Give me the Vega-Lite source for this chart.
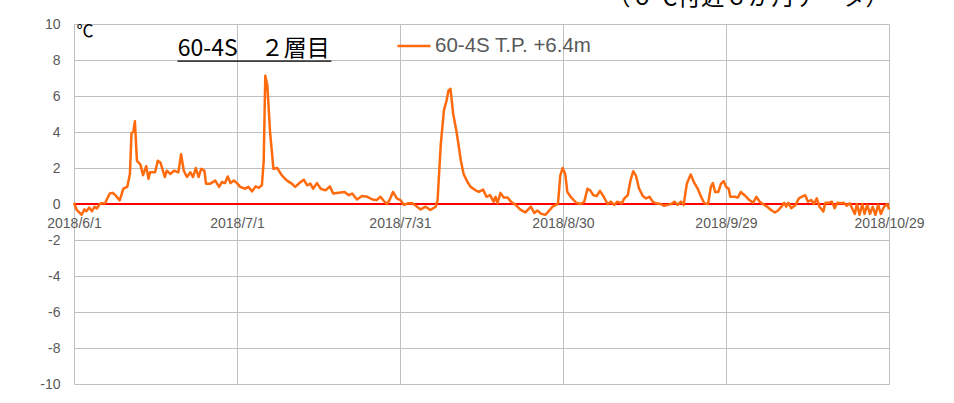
{
  "$schema": "https://vega.github.io/schema/vega-lite/v6.json",
  "width": 815,
  "height": 360,
  "autosize": {"type": "none"},
  "padding": {"left": 74, "top": 24, "right": 65, "bottom": 19},
  "background": "white",
  "config": {"view": {"stroke": null}},
  "datasets": {
    "temp": [
      {"t":"2018-06-01T00:00","v":0.07},{"t":"2018-06-01T12:00","v":-0.33},{"t":"2018-06-02T10:00","v":-0.6},{"t":"2018-06-02T22:00","v":-0.3},
      {"t":"2018-06-03T07:00","v":-0.4},{"t":"2018-06-03T19:00","v":-0.2},{"t":"2018-06-04T07:00","v":-0.4},{"t":"2018-06-04T19:00","v":-0.15},
      {"t":"2018-06-05T05:00","v":-0.25},{"t":"2018-06-05T17:00","v":0.0},{"t":"2018-06-06T02:00","v":0.04},{"t":"2018-06-06T17:00","v":0.04},
      {"t":"2018-06-07T05:00","v":0.35},{"t":"2018-06-07T14:00","v":0.58},{"t":"2018-06-08T02:00","v":0.62},{"t":"2018-06-08T14:00","v":0.5},
      {"t":"2018-06-09T10:00","v":0.2},{"t":"2018-06-10T02:00","v":0.85},{"t":"2018-06-10T19:00","v":0.95},{"t":"2018-06-11T07:00","v":1.67},
      {"t":"2018-06-11T14:00","v":3.95},{"t":"2018-06-11T22:00","v":4.0},{"t":"2018-06-12T05:00","v":4.6},{"t":"2018-06-12T14:00","v":2.4},
      {"t":"2018-06-13T05:00","v":2.2},{"t":"2018-06-13T17:00","v":1.6},{"t":"2018-06-14T07:00","v":2.1},{"t":"2018-06-14T17:00","v":1.4},
      {"t":"2018-06-15T00:00","v":1.76},{"t":"2018-06-15T22:00","v":1.76},{"t":"2018-06-16T10:00","v":2.4},{"t":"2018-06-16T22:00","v":2.3},
      {"t":"2018-06-17T17:00","v":1.5},{"t":"2018-06-18T02:00","v":1.85},{"t":"2018-06-18T17:00","v":1.67},{"t":"2018-06-19T10:00","v":1.85},
      {"t":"2018-06-20T05:00","v":1.76},{"t":"2018-06-20T17:00","v":2.76},{"t":"2018-06-21T05:00","v":1.85},{"t":"2018-06-21T19:00","v":1.5},
      {"t":"2018-06-22T10:00","v":1.76},{"t":"2018-06-22T22:00","v":1.5},{"t":"2018-06-23T10:00","v":2.0},{"t":"2018-06-23T22:00","v":1.5},
      {"t":"2018-06-24T10:00","v":1.95},{"t":"2018-06-25T00:00","v":1.85},{"t":"2018-06-25T07:00","v":1.13},{"t":"2018-06-26T02:00","v":1.13},
      {"t":"2018-06-27T00:00","v":1.3},{"t":"2018-06-27T17:00","v":0.95},{"t":"2018-06-28T05:00","v":1.22},{"t":"2018-06-28T19:00","v":1.16},
      {"t":"2018-06-29T07:00","v":1.53},{"t":"2018-06-29T19:00","v":1.16},{"t":"2018-06-30T10:00","v":1.3},{"t":"2018-07-01T00:00","v":1.16},
      {"t":"2018-07-01T14:00","v":0.95},{"t":"2018-07-02T12:00","v":0.85},{"t":"2018-07-03T02:00","v":0.95},{"t":"2018-07-03T19:00","v":0.7},
      {"t":"2018-07-04T10:00","v":0.98},{"t":"2018-07-05T00:00","v":0.9},{"t":"2018-07-05T14:00","v":1.04},{"t":"2018-07-05T22:00","v":2.4},
      {"t":"2018-07-06T05:00","v":7.13},{"t":"2018-07-06T14:00","v":6.6},{"t":"2018-07-07T02:00","v":4.0},{"t":"2018-07-07T17:00","v":1.95},
      {"t":"2018-07-08T10:00","v":2.0},{"t":"2018-07-08T17:00","v":1.85},{"t":"2018-07-09T07:00","v":1.58},{"t":"2018-07-10T05:00","v":1.3},
      {"t":"2018-07-11T02:00","v":1.13},{"t":"2018-07-11T17:00","v":0.95},{"t":"2018-07-12T17:00","v":1.22},{"t":"2018-07-13T07:00","v":1.35},
      {"t":"2018-07-13T22:00","v":1.04},{"t":"2018-07-14T12:00","v":1.13},{"t":"2018-07-15T00:00","v":0.85},{"t":"2018-07-15T17:00","v":1.16},
      {"t":"2018-07-16T10:00","v":0.85},{"t":"2018-07-17T07:00","v":0.76},{"t":"2018-07-18T02:00","v":0.98},{"t":"2018-07-18T17:00","v":0.58},
      {"t":"2018-07-19T17:00","v":0.62},{"t":"2018-07-20T19:00","v":0.67},{"t":"2018-07-21T14:00","v":0.49},{"t":"2018-07-22T05:00","v":0.58},
      {"t":"2018-07-23T02:00","v":0.25},{"t":"2018-07-24T00:00","v":0.44},{"t":"2018-07-25T00:00","v":0.4},{"t":"2018-07-25T22:00","v":0.25},
      {"t":"2018-07-26T17:00","v":0.22},{"t":"2018-07-27T10:00","v":0.4},{"t":"2018-07-28T00:00","v":0.18},{"t":"2018-07-28T14:00","v":0.0},
      {"t":"2018-07-29T02:00","v":0.22},{"t":"2018-07-29T17:00","v":0.67},{"t":"2018-07-30T10:00","v":0.31},{"t":"2018-07-31T02:00","v":0.22},
      {"t":"2018-07-31T17:00","v":-0.05},{"t":"2018-08-01T12:00","v":0.04},{"t":"2018-08-02T07:00","v":0.04},{"t":"2018-08-02T22:00","v":-0.1},
      {"t":"2018-08-03T19:00","v":-0.3},{"t":"2018-08-04T17:00","v":-0.15},{"t":"2018-08-05T14:00","v":-0.33},{"t":"2018-08-06T14:00","v":-0.15},
      {"t":"2018-08-06T22:00","v":0.22},{"t":"2018-08-07T12:00","v":3.3},{"t":"2018-08-08T02:00","v":5.2},{"t":"2018-08-08T14:00","v":5.76},
      {"t":"2018-08-08T22:00","v":6.3},{"t":"2018-08-09T07:00","v":6.4},{"t":"2018-08-09T19:00","v":5.0},{"t":"2018-08-10T10:00","v":4.0},
      {"t":"2018-08-11T05:00","v":2.4},{"t":"2018-08-11T17:00","v":1.67},{"t":"2018-08-12T10:00","v":1.22},{"t":"2018-08-13T00:00","v":0.95},
      {"t":"2018-08-13T22:00","v":0.76},{"t":"2018-08-14T12:00","v":0.67},{"t":"2018-08-15T07:00","v":0.8},{"t":"2018-08-15T22:00","v":0.4},
      {"t":"2018-08-16T14:00","v":0.49},{"t":"2018-08-17T05:00","v":0.13},{"t":"2018-08-17T14:00","v":0.4},{"t":"2018-08-17T22:00","v":0.04},
      {"t":"2018-08-18T12:00","v":0.62},{"t":"2018-08-19T02:00","v":0.36},{"t":"2018-08-19T19:00","v":0.36},{"t":"2018-08-20T10:00","v":0.13},
      {"t":"2018-08-21T07:00","v":-0.05},{"t":"2018-08-22T05:00","v":-0.33},{"t":"2018-08-23T02:00","v":-0.47},{"t":"2018-08-24T02:00","v":-0.15},
      {"t":"2018-08-24T17:00","v":-0.5},{"t":"2018-08-25T07:00","v":-0.36},{"t":"2018-08-26T00:00","v":-0.55},{"t":"2018-08-26T19:00","v":-0.6},
      {"t":"2018-08-27T07:00","v":-0.42},{"t":"2018-08-28T02:00","v":-0.15},{"t":"2018-08-28T17:00","v":-0.05},{"t":"2018-08-29T02:00","v":0.04},
      {"t":"2018-08-29T12:00","v":1.58},{"t":"2018-08-29T22:00","v":2.0},{"t":"2018-08-30T10:00","v":1.67},{"t":"2018-08-30T19:00","v":0.67},
      {"t":"2018-08-31T10:00","v":0.4},{"t":"2018-09-01T10:00","v":0.07},{"t":"2018-09-02T07:00","v":0.0},{"t":"2018-09-02T22:00","v":0.13},
      {"t":"2018-09-03T12:00","v":0.85},{"t":"2018-09-04T00:00","v":0.76},{"t":"2018-09-04T14:00","v":0.49},{"t":"2018-09-05T05:00","v":0.44},
      {"t":"2018-09-05T19:00","v":0.73},{"t":"2018-09-06T12:00","v":0.4},{"t":"2018-09-07T05:00","v":0.0},{"t":"2018-09-07T19:00","v":0.13},
      {"t":"2018-09-08T10:00","v":-0.05},{"t":"2018-09-09T00:00","v":0.13},{"t":"2018-09-09T19:00","v":0.04},{"t":"2018-09-10T07:00","v":0.31},
      {"t":"2018-09-10T22:00","v":0.49},{"t":"2018-09-11T10:00","v":1.3},{"t":"2018-09-11T22:00","v":1.82},{"t":"2018-09-12T10:00","v":1.58},
      {"t":"2018-09-13T00:00","v":0.85},{"t":"2018-09-13T17:00","v":0.44},{"t":"2018-09-14T07:00","v":0.31},{"t":"2018-09-14T22:00","v":0.4},
      {"t":"2018-09-15T12:00","v":0.13},{"t":"2018-09-16T02:00","v":0.04},{"t":"2018-09-17T00:00","v":0.0},{"t":"2018-09-17T14:00","v":-0.1},
      {"t":"2018-09-18T07:00","v":-0.05},{"t":"2018-09-18T22:00","v":0.0},{"t":"2018-09-19T12:00","v":0.13},{"t":"2018-09-20T02:00","v":-0.05},
      {"t":"2018-09-20T17:00","v":0.13},{"t":"2018-09-21T05:00","v":-0.05},{"t":"2018-09-21T19:00","v":1.13},{"t":"2018-09-22T12:00","v":1.64},
      {"t":"2018-09-23T02:00","v":1.22},{"t":"2018-09-23T19:00","v":0.85},{"t":"2018-09-24T10:00","v":0.4},{"t":"2018-09-25T00:00","v":0.04},
      {"t":"2018-09-25T17:00","v":0.0},{"t":"2018-09-26T05:00","v":0.95},{"t":"2018-09-26T14:00","v":1.16},{"t":"2018-09-27T00:00","v":0.67},
      {"t":"2018-09-27T14:00","v":0.67},{"t":"2018-09-28T02:00","v":1.13},{"t":"2018-09-28T14:00","v":1.27},{"t":"2018-09-29T00:00","v":0.95},
      {"t":"2018-09-29T12:00","v":0.85},{"t":"2018-09-29T19:00","v":0.4},{"t":"2018-09-30T14:00","v":0.4},{"t":"2018-10-01T05:00","v":0.36},
      {"t":"2018-10-01T17:00","v":0.67},{"t":"2018-10-02T10:00","v":0.49},{"t":"2018-10-03T07:00","v":0.22},{"t":"2018-10-04T00:00","v":0.07},
      {"t":"2018-10-04T14:00","v":0.4},{"t":"2018-10-05T05:00","v":0.13},{"t":"2018-10-05T19:00","v":0.0},{"t":"2018-10-06T14:00","v":-0.15},
      {"t":"2018-10-07T07:00","v":-0.33},{"t":"2018-10-08T00:00","v":-0.47},{"t":"2018-10-08T14:00","v":-0.36},{"t":"2018-10-09T05:00","v":-0.15},
      {"t":"2018-10-09T17:00","v":0.07},{"t":"2018-10-10T02:00","v":-0.15},{"t":"2018-10-10T12:00","v":0.07},{"t":"2018-10-11T00:00","v":-0.24},
      {"t":"2018-10-11T19:00","v":-0.05},{"t":"2018-10-12T10:00","v":0.31},{"t":"2018-10-12T22:00","v":0.4},{"t":"2018-10-13T14:00","v":0.49},
      {"t":"2018-10-14T02:00","v":0.13},{"t":"2018-10-14T17:00","v":0.22},{"t":"2018-10-15T05:00","v":0.0},{"t":"2018-10-15T17:00","v":0.31},
      {"t":"2018-10-16T05:00","v":-0.15},{"t":"2018-10-16T22:00","v":-0.42},{"t":"2018-10-17T07:00","v":0.07},{"t":"2018-10-17T22:00","v":0.07},
      {"t":"2018-10-18T12:00","v":0.13},{"t":"2018-10-19T00:00","v":-0.24},{"t":"2018-10-19T12:00","v":0.07},{"t":"2018-10-20T02:00","v":0.04},
      {"t":"2018-10-20T17:00","v":0.07},{"t":"2018-10-21T05:00","v":-0.1},{"t":"2018-10-21T19:00","v":0.04},{"t":"2018-10-22T05:00","v":-0.24},
      {"t":"2018-10-22T17:00","v":-0.55},{"t":"2018-10-23T02:00","v":0.0},{"t":"2018-10-23T14:00","v":-0.6},{"t":"2018-10-24T02:00","v":0.0},
      {"t":"2018-10-24T12:00","v":-0.55},{"t":"2018-10-25T00:00","v":-0.05},{"t":"2018-10-25T12:00","v":-0.55},{"t":"2018-10-26T00:00","v":-0.15},
      {"t":"2018-10-26T12:00","v":-0.6},{"t":"2018-10-27T00:00","v":-0.05},{"t":"2018-10-27T12:00","v":-0.55},{"t":"2018-10-28T02:00","v":-0.15},
      {"t":"2018-10-28T17:00","v":0.0},{"t":"2018-10-29T00:00","v":-0.3}
    ]
  },
  "layer": [
    {
      "data": {"values": [{}]},
      "mark": {"type": "rule", "color": "#ff0000", "strokeWidth": 2},
      "encoding": {
        "y": {"datum": 0, "type": "quantitative", "scale": {"domain": [-10, 10], "nice": false, "zero": false}}
      }
    },
    {
      "data": {"name": "temp"},
      "mark": {"type": "line", "strokeWidth": 2.5, "strokeJoin": "round"},
      "encoding": {
        "x": {
          "field": "t", "type": "temporal",
          "scale": {"domain": [{"year": 2018, "month": 6, "date": 1}, {"year": 2018, "month": 10, "date": 29}], "nice": false},
          "axis": {
            "values": [{"year": 2018, "month": 6, "date": 1}, {"year": 2018, "month": 7, "date": 1}, {"year": 2018, "month": 7, "date": 31}, {"year": 2018, "month": 8, "date": 30}, {"year": 2018, "month": 9, "date": 29}, {"year": 2018, "month": 10, "date": 29}],
            "tickCount": 30,
            "format": "%Y/%-m/%-d", "offset": -180, "labelPadding": 12, "ticks": false, "domain": false,
            "grid": true, "gridColor": "#bfbfbf", "gridWidth": 1, "gridOpacity": 1,
            "labelColor": "#595959", "labelFont": "Liberation Sans", "labelFontSize": 14,
            "title": null, "labelFlush": false, "labelOverlap": false, "labelBound": false
          }
        },
        "y": {
          "field": "v", "type": "quantitative",
          "scale": {"domain": [-10, 10], "nice": false, "zero": false},
          "axis": {
            "values": [-10, -8, -6, -4, -2, 0, 2, 4, 6, 8, 10], "tickCount": 30,
            "labelExpr": "'' + datum.value", "labelOverlap": false,
            "ticks": false, "domain": false, "grid": true, "gridColor": "#bfbfbf", "gridWidth": 1, "gridOpacity": 1,
            "labelColor": "#595959", "labelFont": "Liberation Sans", "labelFontSize": 14, "labelPadding": 14,
            "title": "℃", "titleAngle": 0, "titleX": 2, "titleY": -1, "titleAlign": "left", "titleBaseline": "top",
            "titleFont": "Noto Sans CJK JP", "titleFontSize": 17, "titleFontWeight": "normal", "titleColor": "#000000"
          }
        },
        "color": {
          "datum": "60-4S T.P. +6.4m", "type": "nominal",
          "scale": {"range": ["#ff6a0d"]},
          "legend": {
            "orient": "none", "legendX": 322, "legendY": 4, "title": null, "padding": 0,
            "symbolType": "stroke", "symbolSize": 1089, "symbolStrokeWidth": 2.5,
            "labelFont": "Liberation Sans", "labelFontSize": 20.5, "labelColor": "#595959", "labelOffset": 3
          }
        }
      }
    },
    {
      "data": {"values": [{"label": "60-4S　２層目"}]},
      "mark": {"type": "text", "align": "left", "baseline": "alphabetic", "font": "Noto Sans CJK JP", "fontSize": 23, "color": "#000000"},
      "encoding": {
        "x": {"datum": {"year": 2018, "month": 6, "date": 20, "hours": 2}, "type": "temporal", "scale": {"domain": [{"year": 2018, "month": 6, "date": 1}, {"year": 2018, "month": 10, "date": 29}], "nice": false}},
        "y": {"datum": 8.22, "type": "quantitative", "scale": {"domain": [-10, 10], "nice": false, "zero": false}},
        "text": {"field": "label"}
      }
    },
    {
      "data": {"values": [{}]},
      "mark": {"type": "rule", "color": "#000000", "strokeWidth": 1.3},
      "encoding": {
        "x": {"datum": {"year": 2018, "month": 6, "date": 20, "hours": 1}, "type": "temporal", "scale": {"domain": [{"year": 2018, "month": 6, "date": 1}, {"year": 2018, "month": 10, "date": 29}], "nice": false}},
        "x2": {"datum": {"year": 2018, "month": 7, "date": 18, "hours": 9}},
        "y": {"datum": 7.94, "type": "quantitative", "scale": {"domain": [-10, 10], "nice": false, "zero": false}}
      }
    },
    {
      "data": {"values": [{"label": "（０℃付近６か月データ）"}]},
      "mark": {"type": "text", "align": "right", "baseline": "alphabetic", "font": "Noto Sans CJK JP", "fontSize": 23.5, "color": "#000000", "clip": false},
      "encoding": {
        "x": {"datum": {"year": 2018, "month": 10, "date": 29}, "type": "temporal", "scale": {"domain": [{"year": 2018, "month": 6, "date": 1}, {"year": 2018, "month": 10, "date": 29}], "nice": false}},
        "y": {"datum": 11.08, "type": "quantitative", "scale": {"domain": [-10, 10], "nice": false, "zero": false}},
        "text": {"field": "label"}
      }
    }
  ]
}
